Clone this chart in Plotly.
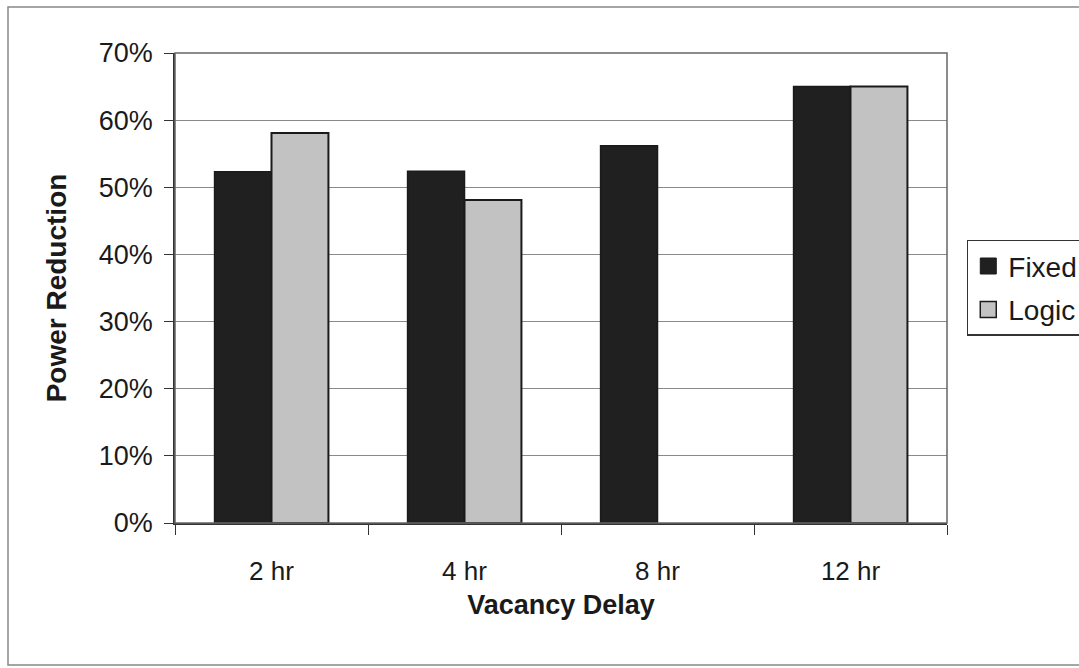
import plotly.graph_objects as go

categories = ["2 hr", "4 hr", "8 hr", "12 hr"]
fixed = [0.523, 0.524, 0.562, 0.65]
logic = [0.581, 0.481, None, 0.65]
y_ticks = [0, 0.1, 0.2, 0.3, 0.4, 0.5, 0.6, 0.7]
y_tick_labels = ["0%", "10%", "20%", "30%", "40%", "50%", "60%", "70%"]

FONT = "Liberation Sans, Arial, sans-serif"
FIXED_COLOR = "#202020"
LOGIC_COLOR = "#c2c2c2"
EDGE = "#1a1a1a"

fig = go.Figure()
fig.add_trace(go.Bar(
    name="Fixed", x=categories, y=fixed, showlegend=False,
    marker=dict(color=FIXED_COLOR, line=dict(color=EDGE, width=1.5)),
))
fig.add_trace(go.Bar(
    name="Logic", x=categories, y=logic, showlegend=False,
    marker=dict(color=LOGIC_COLOR, line=dict(color=EDGE, width=2)),
))

# legend keys drawn as larger square swatches
for name, color, lw in [("Fixed", FIXED_COLOR, 1), ("Logic", LOGIC_COLOR, 1.5)]:
    fig.add_trace(go.Scatter(
        name=name, x=[None], y=[None], mode="markers", legendgroup=name,
        marker=dict(symbol="square", size=16, color=color,
                    line=dict(color=EDGE, width=lw)),
    ))

fig.update_layout(
    width=1079, height=668,
    margin=dict(l=175, r=132, t=53, b=145, autoexpand=False),
    paper_bgcolor="white", plot_bgcolor="white",
    barmode="group", bargap=0.41, bargroupgap=0,
    font=dict(family=FONT, size=26, color="#1a1a1a"),
    showlegend=True,
    legend=dict(
        xref="container", yref="container",
        x=0.896, y=0.641, xanchor="left", yanchor="top",
        bordercolor="#333333", borderwidth=1.5,
        font=dict(family=FONT, size=28, color="#1a1a1a"),
        itemsizing="trace", tracegroupgap=4,
    ),
    xaxis=dict(
        title=dict(text="<b>Vacancy Delay</b>", font=dict(size=27), standoff=10),
        tickson="boundaries", ticks="outside", ticklen=10, tickcolor="#333333",
        showline=True, linecolor="#333333", linewidth=1.5,
        mirror=False, showgrid=False,
        tickfont=dict(size=26), ticklabelstandoff=24,
    ),
    yaxis=dict(
        title=dict(text="<b>Power Reduction</b>", font=dict(size=28), standoff=24),
        range=[0, 0.7], tickvals=y_ticks, ticktext=y_tick_labels,
        ticks="outside", ticklen=9, tickcolor="#333333",
        showline=True, linecolor="#333333", linewidth=1.5,
        showgrid=True, gridcolor="#8a8a8a", gridwidth=1.2,
        zeroline=False, tickfont=dict(size=27), ticklabelstandoff=6,
    ),
    shapes=[
        # plot area frame (top and right)
        dict(type="rect", xref="paper", yref="paper", x0=0, x1=1, y0=0, y1=1,
             line=dict(color="#666666", width=1.5), layer="above"),
        # outer chart border
        dict(type="rect", xref="paper", yref="paper",
             x0=-167 / 772, x1=1.25, y0=-142 / 470, y1=1 + 46 / 470,
             line=dict(color="#888888", width=1.5)),
    ],
)

fig.write_html("out.html")
